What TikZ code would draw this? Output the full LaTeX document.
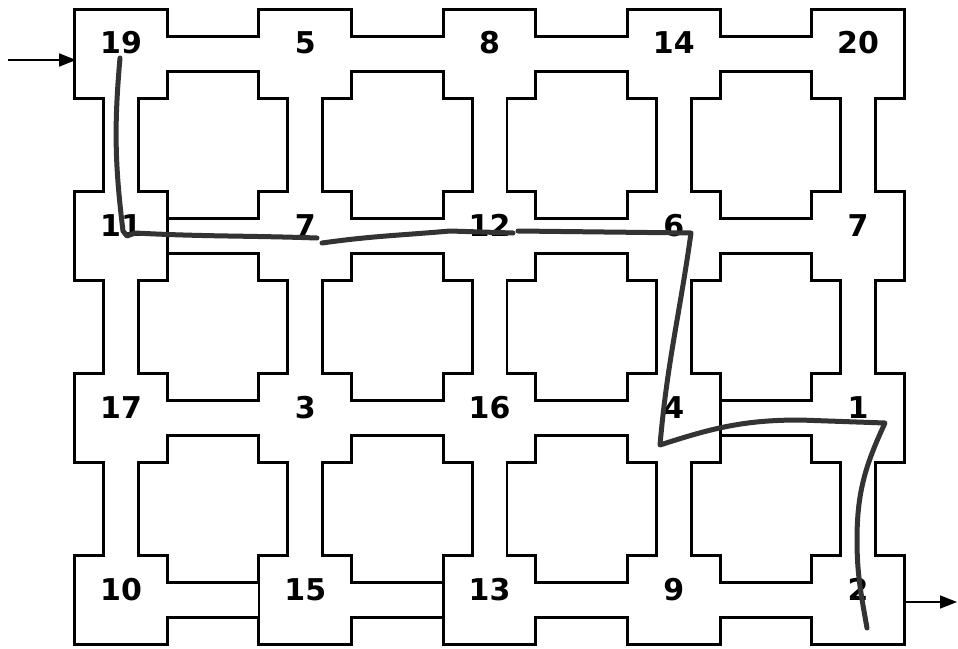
\documentclass[tikz,border=0pt]{standalone}
\usepackage{fontspec}
\newfontfamily\roomfont{DejaVu Sans}
\usetikzlibrary{arrows.meta,backgrounds}
\tikzset{
  room/.style={minimum width=44.5pt, minimum height=43pt, inner sep=0pt,
    text height=10pt, text depth=10pt,
    font=\roomfont\bfseries\fontsize{15}{17}\selectfont},
  wallside/.style={line width=2.9pt},
  corridor/.style={line width=18.9pt},
  hall/.style={white, line width=16pt},
  wall/.style={line width=1.45pt},
  route/.style={line width=2.5pt, draw=black!80, line cap=round, line join=round},
  >={Triangle[length=8.5pt,width=6.5pt]},
}
\begin{document}
\begin{tikzpicture}[x=0.5pt,y=0.5pt]
  \useasboundingbox (0,0) rectangle (958,-648);
  % rooms on the grid (label/column/row)
  \foreach \lbl/\c/\r in {19/0/0,5/1/0,8/2/0,14/3/0,20/4/0,
      11/0/1,7/1/1,12/2/1,6/3/1,7/4/1,
      17/0/2,3/1/2,16/2/2,4/3/2,1/4/2,
      10/0/3,15/1/3,13/2/3,9/3/3,2/4/3}
    \node[room] (g\c\r) at (121+184.25*\c,-54-182*\r) {\lbl};
  % walls: black outline first, white floor on top
  \begin{pgfonlayer}{background}
    \foreach \c in {0,...,4} \foreach \r in {0,...,3}
      \draw[wallside] (g\c\r.north west) rectangle (g\c\r.south east);
    \foreach \c/\d in {0/1,1/2,2/3,3/4} \foreach \r in {0,...,3}
      \draw[corridor] (g\c\r) -- (g\d\r);
    \foreach \c in {0,...,4} \foreach \r/\s in {0/1,1/2,2/3}
      \draw[corridor] (g\c\r) -- (g\c\s);
    \foreach \c in {0,...,4} \foreach \r in {0,...,3}
      \fill[white] (g\c\r.north west) rectangle (g\c\r.south east);
    \foreach \c/\d in {0/1,1/2,2/3,3/4} \foreach \r in {0,...,3}
      \draw[hall] (g\c\r) -- (g\d\r);
    \foreach \c in {0,...,4} \foreach \r/\s in {0/1,1/2,2/3}
      \draw[hall] (g\c\r) -- (g\c\s);
    % room sides drawn across the corridor
    \draw[wall] ([xshift=0.7pt]g01.north east) -- ([xshift=0.7pt]g01.south east);
    \draw[wall] ([xshift=0.7pt]g32.north east) -- ([xshift=0.7pt]g32.south east);
    \draw[wall] ([xshift=-0.7pt]g13.north west) -- ([xshift=-0.7pt]g13.south west);
    \draw[wall] ([xshift=-0.7pt]g23.north west) -- ([xshift=-0.7pt]g23.south west);
  \end{pgfonlayer}
  % entry and exit
  \coordinate (entry) at (8,-60);
  \coordinate (exit) at (957,-602);
  \draw[->,line width=0.8pt] (entry) -- (entry -| g00.west);
  \draw[->,line width=0.8pt] (exit -| g43.east) -- (exit);
  % hand drawn route
  \draw[route] (120,-58) to[out=-95,in=97] (123,-231) -- (127,-236) -- (135,-233)
    to[out=-3,in=178] (317,-238);
  \draw[route] (322,-243) to[out=8,in=185] (450,-231) -- (513,-233);
  \draw[route] (518,-231) -- (691,-233) to[out=-98,in=85] (660,-445)
    to[out=18,in=180] (800,-420) -- (885,-423)
    to[out=-115,in=90] (857,-540) to[out=-90,in=100] (867,-628);
\end{tikzpicture}
\end{document}
